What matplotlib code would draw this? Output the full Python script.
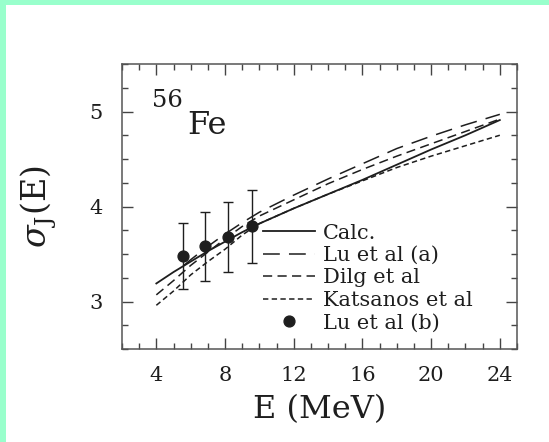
import matplotlib
matplotlib.use("Agg")
import matplotlib.pyplot as plt
from matplotlib.lines import Line2D
from matplotlib.patches import Rectangle

# Spin cutoff parameter for 56Fe versus excitation energy
energy = [4, 5, 6, 7, 8, 9, 10, 12, 14, 16, 18, 20, 22, 24]
calc = [3.19, 3.31, 3.42, 3.53, 3.63, 3.73, 3.82, 3.98, 4.13, 4.28, 4.44, 4.60, 4.75, 4.91]
dilg = [3.07, 3.22, 3.38, 3.52, 3.66, 3.79, 3.90, 4.07, 4.24, 4.39, 4.53, 4.66, 4.79, 4.92]
katsanos = [2.96, 3.11, 3.28, 3.42, 3.55, 3.70, 3.82, 3.98, 4.13, 4.27, 4.41, 4.53, 4.64, 4.75]

lu_a_energy = [5.6, 6, 7, 8, 9, 10, 12, 14, 16, 18, 20, 22, 24]
lu_a = [3.38, 3.44, 3.58, 3.71, 3.83, 3.94, 4.12, 4.29, 4.45, 4.61, 4.74, 4.86, 4.97]

lu_b_energy = [5.55, 6.86, 8.16, 9.55]
lu_b = [3.48, 3.58, 3.68, 3.79]
lu_b_err = [0.35, 0.36, 0.37, 0.38]

x_ticks = [4, 8, 12, 16, 20, 24]
y_ticks = [3, 4, 5]

plt.rcParams['font.family'] = 'DejaVu Serif'
plt.rcParams['mathtext.fontset'] = 'dejavuserif'

ink = '#1e1e1e'
fig = plt.figure(figsize=(5.49, 4.42), dpi=100)
fig.patch.set_facecolor('white')

# mint frame along the left and top edges
fig.patches.append(Rectangle((0, 0), 6 / 549, 1, transform=fig.transFigure,
                             facecolor='#99ffcc', edgecolor='none'))
fig.patches.append(Rectangle((0, 1 - 5 / 442), 1, 5 / 442, transform=fig.transFigure,
                             facecolor='#99ffcc', edgecolor='none'))

ax = fig.add_axes([0.2222, 0.2104, 0.7195, 0.6448])

ax.plot(energy, calc, color=ink, lw=1.3, ls='-')
ax.plot(lu_a_energy, lu_a, color=ink, lw=1.1, ls=(0, (11, 6)))
ax.plot(energy, dilg, color=ink, lw=1.1, ls=(0, (6, 3.5)))
ax.plot(energy, katsanos, color=ink, lw=1.1, ls=(0, (3.5, 2.2)))
ax.errorbar(lu_b_energy, lu_b, yerr=lu_b_err, fmt='o', color=ink, ms=7.8,
            elinewidth=1.0, capsize=3.8, capthick=1.0)

ax.set_xlim(2, 25)
ax.set_ylim(2.5, 5.5)
ax.set_xticks(x_ticks)
ax.set_yticks(y_ticks)
ax.set_xticks(range(2, 26), minor=True)
ax.set_yticks([2.5 + 0.25 * i for i in range(13)], minor=True)
ax.tick_params(which='both', direction='in', top=True, right=True, color='#444444',
               labelsize=15, labelcolor=ink)
ax.tick_params(which='major', length=8, width=1.0)
ax.tick_params(which='minor', length=4, width=1.0)
ax.tick_params(axis='x', which='major', pad=12)
ax.tick_params(axis='y', which='major', pad=14)
for s in ax.spines.values():
    s.set_color('#555555')
    s.set_linewidth(1.1)

ax.set_xlabel('E (MeV)', fontsize=23, color=ink, labelpad=7)
ax.set_ylabel(r'$\sigma_{\rm J}$(E)', fontsize=24, color=ink, labelpad=22)

ax.text(0.076, 0.849, '56', transform=ax.transAxes, fontsize=17.5, color=ink)
ax.text(0.165, 0.754, 'Fe', transform=ax.transAxes, fontsize=23, color=ink)

handles = [
    Line2D([], [], color=ink, lw=1.3, ls='-'),
    Line2D([], [], color=ink, lw=1.1, ls=(0, (11, 6))),
    Line2D([], [], color=ink, lw=1.1, ls=(0, (6, 3.5))),
    Line2D([], [], color=ink, lw=1.1, ls=(0, (3.5, 2.2))),
    Line2D([], [], color=ink, ls='none', marker='o', ms=7.8),
]
labels = ['Calc.', 'Lu et al (a)', 'Dilg et al', 'Katsanos et al', 'Lu et al (b)']
ax.legend(handles, labels, loc='upper left', bbox_to_anchor=(0.357, 0.44), frameon=False,
          fontsize=15, handlelength=2.5, handletextpad=0.38, labelspacing=0.165,
          borderpad=0, borderaxespad=0, labelcolor=ink)

fig.savefig('out.png', dpi=100)
